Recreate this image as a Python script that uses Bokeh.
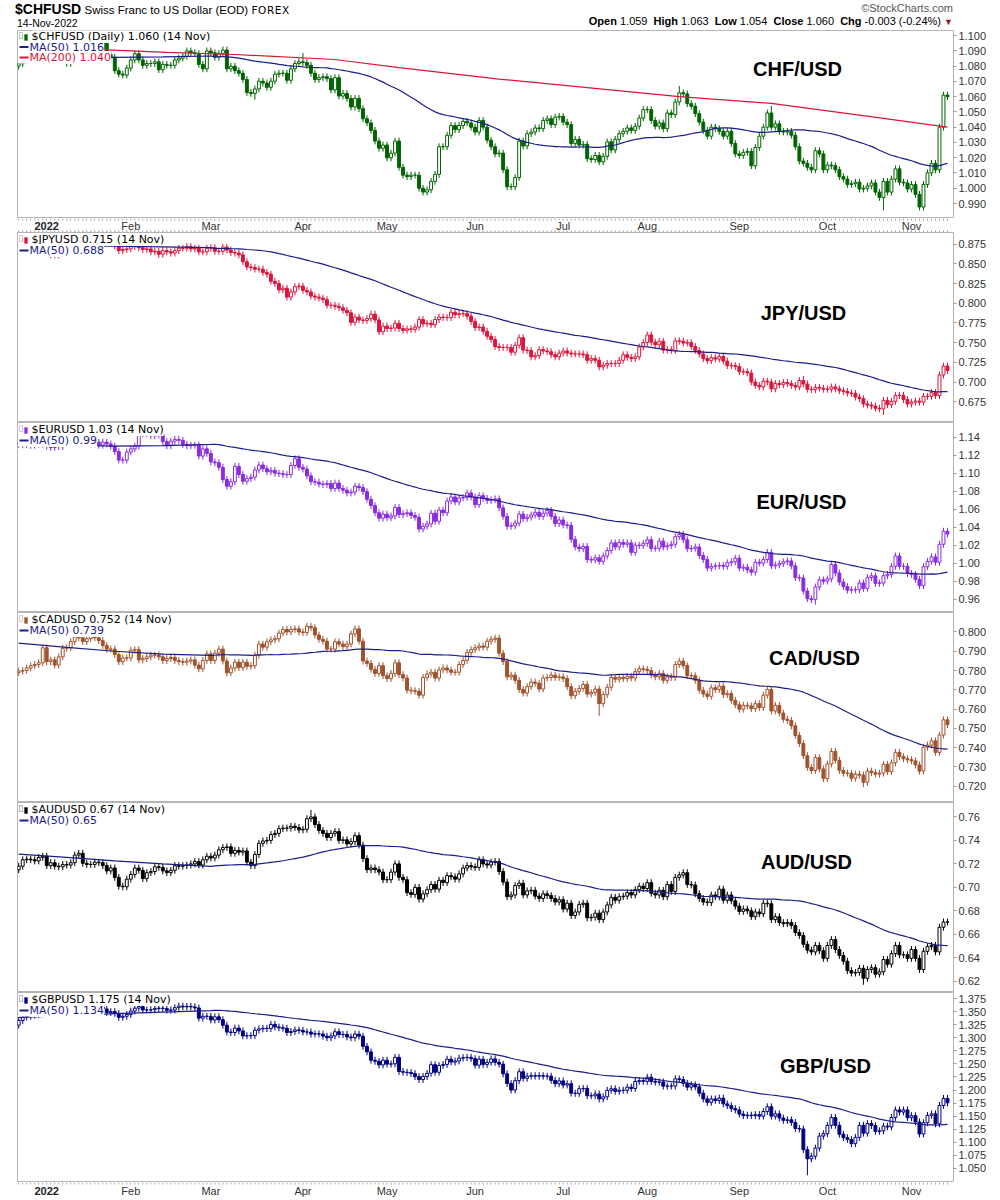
import numpy as np
from bokeh.plotting import figure
from bokeh.layouts import column
from bokeh.models import Range1d, FixedTicker, PrintfTickFormatter, Label, BoxAnnotation, Div
from bokeh.core.properties import value
from bokeh.embed import file_html
from bokeh.resources import INLINE

# ---------------- data (trading day index 0 = 23 Dec 2021 ... 232 = 14 Nov 2022) ----------------
N_DAYS = 233
month_ticks = [7, 28, 48, 71, 92, 114, 136, 157, 180, 202, 223]
month_names = ["2022", "Feb", "Mar", "Apr", "May", "Jun", "Jul", "Aug", "Sep", "Oct", "Nov"]

chf_close = [
    1.0815, 1.0860, 1.0880, 1.0870, 1.0900, 1.0930, 1.0965,
    1.0909, 1.0864, 1.0887, 1.0846, 1.0874,
    1.0817, 1.0864, 1.0929, 1.0965, 1.0941,
    1.0923, 1.0881, 1.0935, 1.0911, 1.0959,
    1.0875, 1.0858, 1.0770, 1.0747, 1.0741,
    1.0787, 1.0840, 1.0881, 1.0840, 1.0805,
    1.0817, 1.0817, 1.0828, 1.0776, 1.0811,
    1.0805, 1.0805, 1.0840, 1.0852, 1.0864,
    1.0899, 1.0887, 1.0881, 1.0811, 1.0782,
    1.0899, 1.0887, 1.0858, 1.0881, 1.0905,
    1.0782, 1.0799, 1.0770, 1.0753, 1.0712,
    1.0627, 1.0621, 1.0650, 1.0701, 1.0689,
    1.0661, 1.0701, 1.0747, 1.0753, 1.0753,
    1.0707, 1.0782, 1.0817, 1.0828, 1.0823,
    1.0805, 1.0753, 1.0712, 1.0724, 1.0730,
    1.0718, 1.0644, 1.0724, 1.0604, 1.0621,
    1.0588, 1.0532, 1.0588, 1.0521, 1.0455,
    1.0428, 1.0379, 1.0309, 1.0262, 1.0283,
    1.0199, 1.0230, 1.0309, 1.0137, 1.0086,
    1.0076, 1.0086, 1.0086, 1.0000, 0.9975,
    0.9990, 1.0045, 1.0091, 1.0272, 1.0272,
    1.0347, 1.0411, 1.0384, 1.0411, 1.0438,
    1.0428, 1.0400, 1.0368, 1.0444, 1.0400,
    1.0315, 1.0272, 1.0225, 1.0230, 1.0121,
    1.0010, 1.0010, 1.0070, 1.0309, 1.0277,
    1.0357, 1.0368, 1.0395, 1.0390, 1.0444,
    1.0455, 1.0417, 1.0466, 1.0471, 1.0433,
    1.0417, 1.0293, 1.0320, 1.0283, 1.0288,
    1.0194, 1.0188, 1.0215, 1.0173, 1.0209,
    1.0304, 1.0251, 1.0320, 1.0357, 1.0373,
    1.0395, 1.0379, 1.0406, 1.0460, 1.0515,
    1.0515, 1.0444, 1.0406, 1.0428, 1.0390,
    1.0493, 1.0482, 1.0565, 1.0625, 1.0618,
    1.0554, 1.0537, 1.0488, 1.0433, 1.0379,
    1.0341, 1.0400, 1.0390, 1.0373, 1.0341,
    1.0373, 1.0293, 1.0225, 1.0215, 1.0235,
    1.0241, 1.0147, 1.0267, 1.0341, 1.0400,
    1.0493, 1.0400, 1.0422, 1.0373, 1.0368,
    1.0373, 1.0347, 1.0272, 1.0178, 1.0163,
    1.0137, 1.0121, 1.0246, 1.0225, 1.0121,
    1.0152, 1.0147, 1.0121, 1.0076, 1.0060,
    1.0025, 1.0030, 1.0040, 0.9995, 1.0000,
    1.0015, 1.0035, 0.9975, 0.9940, 1.0045,
    0.9975, 1.0060, 1.0127, 1.0040, 1.0035,
    0.9995, 1.0025, 0.9960, 0.9877, 1.0025,
    1.0101, 1.0163, 1.0121, 1.0400, 1.0610,
    1.0600,
]
jpy_close = [
    0.8741, 0.8741, 0.8711, 0.8711, 0.8696, 0.8688, 0.8688,
    0.8673, 0.8613, 0.8613, 0.8636, 0.8651,
    0.8681, 0.8673, 0.8726, 0.8757, 0.8757,
    0.8726, 0.8726, 0.8749, 0.8764, 0.8795,
    0.8780, 0.8787, 0.8726, 0.8666, 0.8681,
    0.8688, 0.8718, 0.8741, 0.8703, 0.8681,
    0.8688, 0.8651, 0.8658, 0.8621, 0.8666,
    0.8651, 0.8636, 0.8666, 0.8696, 0.8696,
    0.8718, 0.8688, 0.8696, 0.8651, 0.8651,
    0.8696, 0.8703, 0.8658, 0.8658, 0.8711,
    0.8673, 0.8643, 0.8636, 0.8613, 0.8525,
    0.8460, 0.8453, 0.8432, 0.8432, 0.8389,
    0.8368, 0.8278, 0.8251, 0.8170, 0.8190,
    0.8078, 0.8143, 0.8210, 0.8217, 0.8163,
    0.8143, 0.8091, 0.8078, 0.8065, 0.8045,
    0.7974, 0.7974, 0.7962, 0.7943, 0.7911,
    0.7880, 0.7758, 0.7825, 0.7788, 0.7782,
    0.7806, 0.7862, 0.7788, 0.7639, 0.7710,
    0.7680, 0.7686, 0.7746, 0.7680, 0.7657,
    0.7675, 0.7669, 0.7698, 0.7794, 0.7740,
    0.7746, 0.7728, 0.7794, 0.7825, 0.7819,
    0.7819, 0.7886, 0.7855, 0.7868, 0.7868,
    0.7837, 0.7770, 0.7692, 0.7698, 0.7645,
    0.7582, 0.7541, 0.7452, 0.7440, 0.7440,
    0.7440, 0.7380, 0.7468, 0.7564, 0.7407,
    0.7402, 0.7321, 0.7337, 0.7413, 0.7396,
    0.7386, 0.7348, 0.7321, 0.7369, 0.7396,
    0.7369, 0.7358, 0.7358, 0.7358, 0.7348,
    0.7278, 0.7299, 0.7278, 0.7194, 0.7215,
    0.7236, 0.7236, 0.7236, 0.7278, 0.7348,
    0.7315, 0.7299, 0.7321, 0.7446, 0.7502,
    0.7599, 0.7508, 0.7474, 0.7519, 0.7407,
    0.7413, 0.7402, 0.7524, 0.7519, 0.7496,
    0.7502, 0.7452, 0.7402, 0.7358, 0.7299,
    0.7273, 0.7310, 0.7294, 0.7326, 0.7267,
    0.7210, 0.7210, 0.7199, 0.7133, 0.7133,
    0.7117, 0.7003, 0.6959, 0.6940, 0.7013,
    0.7003, 0.6916, 0.6983, 0.6969, 0.6998,
    0.6983, 0.6959, 0.6940, 0.7022, 0.6978,
    0.6911, 0.6906, 0.6935, 0.6925, 0.6911,
    0.6911, 0.6940, 0.6916, 0.6892, 0.6882,
    0.6863, 0.6859, 0.6812, 0.6793, 0.6725,
    0.6711, 0.6698, 0.6671, 0.6662, 0.6770,
    0.6716, 0.6757, 0.6831, 0.6835, 0.6780,
    0.6725, 0.6748, 0.6761, 0.6748, 0.6821,
    0.6821, 0.6868, 0.6831, 0.7092, 0.7205,
    0.7148,
]
eur_close = [
    1.1320, 1.1315, 1.1325, 1.1310, 1.1345, 1.1320, 1.1370,
    1.1300, 1.1285, 1.1315, 1.1295, 1.1360,
    1.1330, 1.1370, 1.1440, 1.1455, 1.1415,
    1.1405, 1.1325, 1.1345, 1.1310, 1.1345,
    1.1325, 1.1300, 1.1240, 1.1145, 1.1145,
    1.1235, 1.1270, 1.1300, 1.1440, 1.1455,
    1.1440, 1.1415, 1.1425, 1.1425, 1.1350,
    1.1305, 1.1355, 1.1375, 1.1365, 1.1320,
    1.1305, 1.1310, 1.1310, 1.1190, 1.1270,
    1.1220, 1.1125, 1.1115, 1.1065, 1.0930,
    1.0855, 1.0905, 1.1075, 1.0985, 1.0910,
    1.0940, 1.0955, 1.1035, 1.1090, 1.1050,
    1.1015, 1.1030, 1.1000, 1.0995, 1.0985,
    1.0985, 1.1085, 1.1160, 1.1065, 1.1045,
    1.0970, 1.0905, 1.0900, 1.0880, 1.0875,
    1.0885, 1.0830, 1.0890, 1.0830, 1.0810,
    1.0780, 1.0790, 1.0855, 1.0840, 1.0795,
    1.0710, 1.0640, 1.0560, 1.0500, 1.0545,
    1.0505, 1.0525, 1.0620, 1.0540, 1.0550,
    1.0560, 1.0530, 1.0510, 1.0380, 1.0410,
    1.0435, 1.0555, 1.0465, 1.0590, 1.0560,
    1.0690, 1.0735, 1.0680, 1.0725, 1.0730,
    1.0780, 1.0735, 1.0650, 1.0750, 1.0720,
    1.0695, 1.0705, 1.0715, 1.0615, 1.0520,
    1.0410, 1.0415, 1.0445, 1.0545, 1.0495,
    1.0510, 1.0535, 1.0565, 1.0520, 1.0555,
    1.0585, 1.0520, 1.0440, 1.0480, 1.0425,
    1.0420, 1.0265, 1.0180, 1.0160, 1.0185,
    1.0040, 1.0035, 1.0060, 1.0020, 1.0080,
    1.0140, 1.0225, 1.0180, 1.0230, 1.0210,
    1.0225, 1.0120, 1.0200, 1.0195, 1.0220,
    1.0260, 1.0165, 1.0165, 1.0245, 1.0180,
    1.0195, 1.0210, 1.0295, 1.0320, 1.0260,
    1.0160, 1.0165, 1.0180, 1.0085, 1.0040,
    0.9945, 0.9965, 0.9970, 0.9975, 0.9965,
    1.0005, 1.0015, 1.0055, 0.9945, 0.9955,
    0.9925, 0.9900, 1.0010, 1.0000, 1.0040,
    1.0120, 0.9970, 0.9980, 0.9995, 1.0015,
    1.0025, 0.9970, 0.9840, 0.9835, 0.9690,
    0.9605, 0.9595, 0.9735, 0.9815, 0.9800,
    0.9825, 0.9985, 0.9890, 0.9790, 0.9740,
    0.9700, 0.9705, 0.9705, 0.9780, 0.9720,
    0.9840, 0.9860, 0.9775, 0.9780, 0.9860,
    0.9875, 0.9965, 1.0080, 0.9965, 0.9965,
    0.9885, 0.9875, 0.9820, 0.9750, 0.9960,
    1.0020, 1.0070, 1.0010, 1.0210, 1.0355,
    1.0325,
]
cad_close = [
    0.7797, 0.7800, 0.7813, 0.7825, 0.7831, 0.7840, 0.7918,
    0.7846, 0.7855, 0.7828, 0.7871, 0.7915,
    0.7918, 0.7950, 0.7975, 0.7970, 0.7950,
    0.7965, 0.7975, 0.7970, 0.7955, 0.7930,
    0.7911, 0.7911, 0.7883, 0.7846, 0.7865,
    0.7865, 0.7905, 0.7908, 0.7855, 0.7862,
    0.7871, 0.7880, 0.7880, 0.7871, 0.7852,
    0.7862, 0.7868, 0.7852, 0.7846, 0.7843,
    0.7849, 0.7855, 0.7828, 0.7809, 0.7852,
    0.7886, 0.7852, 0.7890, 0.7911, 0.7849,
    0.7788, 0.7813, 0.7843, 0.7815, 0.7843,
    0.7822, 0.7825, 0.7880, 0.7937, 0.7921,
    0.7949, 0.7959, 0.7965, 0.7994, 0.8013,
    0.8000, 0.8013, 0.8016, 0.8000, 0.7997,
    0.8029, 0.8022, 0.7984, 0.7962, 0.7952,
    0.7911, 0.7911, 0.7949, 0.7937, 0.7924,
    0.7937, 0.7990, 0.8016, 0.7952, 0.7849,
    0.7837, 0.7806, 0.7785, 0.7825, 0.7773,
    0.7758, 0.7785, 0.7840, 0.7779, 0.7761,
    0.7698, 0.7695, 0.7692, 0.7672, 0.7764,
    0.7782, 0.7791, 0.7761, 0.7803, 0.7813,
    0.7803, 0.7791, 0.7791, 0.7831, 0.7852,
    0.7893, 0.7908, 0.7918, 0.7927, 0.7921,
    0.7952, 0.7962, 0.7968, 0.7890, 0.7846,
    0.7767, 0.7776, 0.7749, 0.7701, 0.7683,
    0.7716, 0.7740, 0.7734, 0.7704, 0.7761,
    0.7764, 0.7776, 0.7764, 0.7767, 0.7758,
    0.7716, 0.7669, 0.7692, 0.7707, 0.7728,
    0.7678, 0.7686, 0.7704, 0.7628, 0.7675,
    0.7713, 0.7764, 0.7755, 0.7764, 0.7758,
    0.7770, 0.7761, 0.7794, 0.7809, 0.7806,
    0.7800, 0.7776, 0.7767, 0.7785, 0.7749,
    0.7767, 0.7764, 0.7831, 0.7849, 0.7825,
    0.7773, 0.7773, 0.7749, 0.7698, 0.7678,
    0.7666, 0.7710, 0.7701, 0.7719, 0.7675,
    0.7680, 0.7645, 0.7622, 0.7599, 0.7619,
    0.7616, 0.7602, 0.7628, 0.7608, 0.7672,
    0.7701, 0.7590, 0.7619, 0.7579, 0.7547,
    0.7541, 0.7513, 0.7463, 0.7421, 0.7358,
    0.7297, 0.7281, 0.7348, 0.7289, 0.7239,
    0.7315, 0.7380, 0.7334, 0.7281, 0.7267,
    0.7267, 0.7241, 0.7262, 0.7257, 0.7220,
    0.7278, 0.7270, 0.7262, 0.7267, 0.7313,
    0.7275, 0.7321, 0.7375, 0.7353, 0.7342,
    0.7337, 0.7331, 0.7310, 0.7278, 0.7402,
    0.7413, 0.7435, 0.7375, 0.7465, 0.7544,
    0.7519,
]
aud_close = [
    0.7180, 0.7235, 0.7240, 0.7235, 0.7225, 0.7255, 0.7265,
    0.7185, 0.7210, 0.7180, 0.7175, 0.7195,
    0.7190, 0.7210, 0.7275, 0.7290, 0.7205,
    0.7195, 0.7195, 0.7215, 0.7210, 0.7185,
    0.7140, 0.7165, 0.7085, 0.7010, 0.7005,
    0.7070, 0.7110, 0.7165, 0.7145, 0.7075,
    0.7125, 0.7135, 0.7175, 0.7170, 0.7140,
    0.7125, 0.7145, 0.7185, 0.7180, 0.7185,
    0.7190, 0.7200, 0.7220, 0.7190, 0.7235,
    0.7265, 0.7250, 0.7275, 0.7320, 0.7340,
    0.7345, 0.7290, 0.7315, 0.7300, 0.7310,
    0.7215, 0.7185, 0.7280, 0.7375, 0.7395,
    0.7400, 0.7450, 0.7460, 0.7500, 0.7505,
    0.7505, 0.7520, 0.7510, 0.7490, 0.7495,
    0.7585, 0.7600, 0.7535, 0.7485, 0.7460,
    0.7425, 0.7460, 0.7475, 0.7400, 0.7405,
    0.7370, 0.7390, 0.7440, 0.7360, 0.7245,
    0.7150, 0.7165, 0.7150, 0.7130, 0.7065,
    0.7065, 0.7130, 0.7200, 0.7085, 0.7065,
    0.6955, 0.6940, 0.7000, 0.6900, 0.6945,
    0.6980, 0.7025, 0.6985, 0.7060, 0.7040,
    0.7100, 0.7090, 0.7070, 0.7115, 0.7165,
    0.7185, 0.7175, 0.7170, 0.7235, 0.7200,
    0.7190, 0.7215, 0.7220, 0.7135, 0.7045,
    0.6920, 0.6935, 0.7015, 0.7035, 0.6935,
    0.6970, 0.6975, 0.6925, 0.6905, 0.6945,
    0.6930, 0.6905, 0.6875, 0.6895, 0.6815,
    0.6865, 0.6760, 0.6790, 0.6855, 0.6865,
    0.6740, 0.6745, 0.6780, 0.6725, 0.6790,
    0.6850, 0.6915, 0.6890, 0.6920, 0.6925,
    0.6955, 0.6935, 0.6980, 0.7010, 0.6990,
    0.7040, 0.6950, 0.6935, 0.6975, 0.6920,
    0.7025, 0.6965, 0.7085, 0.7105, 0.7125,
    0.7025, 0.7020, 0.6945, 0.6905, 0.6875,
    0.6870, 0.6935, 0.6920, 0.6985, 0.6890,
    0.6935, 0.6885, 0.6840, 0.6795, 0.6815,
    0.6800, 0.6750, 0.6790, 0.6775, 0.6865,
    0.6860, 0.6725, 0.6750, 0.6700, 0.6690,
    0.6700, 0.6675, 0.6615, 0.6590, 0.6515,
    0.6465, 0.6450, 0.6505, 0.6460, 0.6395,
    0.6505, 0.6555, 0.6470, 0.6420, 0.6370,
    0.6290, 0.6270, 0.6275, 0.6310, 0.6225,
    0.6300, 0.6315, 0.6260, 0.6280, 0.6385,
    0.6345, 0.6435, 0.6505, 0.6425, 0.6425,
    0.6395, 0.6470, 0.6395, 0.6300, 0.6455,
    0.6495, 0.6505, 0.6450, 0.6660, 0.6705,
    0.6705,
]
gbp_close = [
    1.3330, 1.3395, 1.3410, 1.3430, 1.3450, 1.3470, 1.3520,
    1.3480, 1.3530, 1.3545, 1.3530, 1.3590,
    1.3595, 1.3665, 1.3715, 1.3710, 1.3675,
    1.3640, 1.3595, 1.3615, 1.3590, 1.3550,
    1.3480, 1.3500, 1.3465, 1.3390, 1.3410,
    1.3445, 1.3510, 1.3565, 1.3595, 1.3530,
    1.3530, 1.3535, 1.3560, 1.3565, 1.3560,
    1.3525, 1.3530, 1.3575, 1.3605, 1.3590,
    1.3600, 1.3590, 1.3570, 1.3375, 1.3410,
    1.3410, 1.3340, 1.3400, 1.3345, 1.3240,
    1.3110, 1.3100, 1.3185, 1.3130, 1.3035,
    1.3040, 1.3040, 1.3145, 1.3170, 1.3180,
    1.3175, 1.3255, 1.3205, 1.3190, 1.3180,
    1.3100, 1.3120, 1.3150, 1.3140, 1.3110,
    1.3110, 1.3070, 1.3075, 1.3070, 1.3030,
    1.3000, 1.3035, 1.3115, 1.3060, 1.3065,
    1.3015, 1.3000, 1.3070, 1.3030, 1.2835,
    1.2730, 1.2570, 1.2550, 1.2480, 1.2570,
    1.2495, 1.2500, 1.2625, 1.2355, 1.2340,
    1.2335, 1.2315, 1.2255, 1.2200, 1.2260,
    1.2320, 1.2485, 1.2340, 1.2470, 1.2490,
    1.2590, 1.2535, 1.2555, 1.2610, 1.2620,
    1.2625, 1.2600, 1.2475, 1.2590, 1.2490,
    1.2530, 1.2595, 1.2530, 1.2495, 1.2310,
    1.2125, 1.2000, 1.2180, 1.2350, 1.2225,
    1.2265, 1.2275, 1.2265, 1.2275, 1.2265,
    1.2265, 1.2185, 1.2120, 1.2175, 1.2095,
    1.2120, 1.1940, 1.1935, 1.2025, 1.2030,
    1.1890, 1.1890, 1.1925, 1.1830, 1.1870,
    1.1995, 1.2025, 1.1975, 1.1995, 1.1995,
    1.2055, 1.2030, 1.2165, 1.2180, 1.2165,
    1.2245, 1.2165, 1.2150, 1.2155, 1.2075,
    1.2075, 1.2075, 1.2215, 1.2200, 1.2130,
    1.2055, 1.2100, 1.2060, 1.1940, 1.1830,
    1.1765, 1.1830, 1.1800, 1.1845, 1.1735,
    1.1700, 1.1645, 1.1620, 1.1540, 1.1510,
    1.1520, 1.1510, 1.1530, 1.1500, 1.1590,
    1.1680, 1.1500, 1.1545, 1.1465, 1.1420,
    1.1430, 1.1380, 1.1265, 1.1255, 1.0860,
    1.0685, 1.0735, 1.0890, 1.1120, 1.1165,
    1.1325, 1.1475, 1.1325, 1.1155, 1.1090,
    1.1055, 1.0975, 1.1095, 1.1325, 1.1175,
    1.1360, 1.1320, 1.1210, 1.1220, 1.1310,
    1.1295, 1.1475, 1.1620, 1.1580, 1.1620,
    1.1470, 1.1510, 1.1390, 1.1160, 1.1375,
    1.1515, 1.1545, 1.1355, 1.1705, 1.1840,
    1.1755,
]

# opening value of the first candle
chf_open0, jpy_open0, eur_open0, cad_open0, aud_open0, gbp_open0 = 1.0800, 0.8735, 1.1335, 0.7790, 0.7150, 1.3240

# notable wick extremes: {day index: value}
chf_spike_high = {71: 1.0885, 165: 1.0670, 188: 1.0540}
chf_spike_low = {59: 1.0580, 216: 0.9855, 225: 0.9865}
jpy_spike_high = {157: 0.7620, 196: 0.7080}
jpy_spike_low = {216: 0.6585}
eur_spike_high = {}
eur_spike_low = {199: 0.9540}
cad_spike_high = {84: 0.8030}
cad_spike_low = {145: 0.7565, 211: 0.7195}
aud_spike_high = {73: 0.7660}
aud_spike_low = {211: 0.6170}
gbp_spike_high = {}
gbp_spike_low = {197: 1.0370}

# moving averages before enough history
ma50_head_idx = [0, 12, 24, 36, 48]
chf_ma50_head = [1.0850, 1.0855, 1.0857, 1.0860, 1.0866]
jpy_ma50_head = [0.8725, 0.8725, 0.8722, 0.8715, 0.8705]
eur_ma50_head = [1.1320, 1.1310, 1.1300, 1.1305, 1.1320]
cad_ma50_head = [0.7942, 0.7920, 0.7900, 0.7885, 0.7878]
aud_ma50_head = [0.7283, 0.7255, 0.7225, 0.7200, 0.7178]
gbp_ma50_head = [1.3390, 1.3420, 1.3460, 1.3490, 1.3520]

chf_ma200_idx = [0, 19, 37, 54, 79, 95, 120, 165, 188, 216, 232]
chf_ma200 = [1.0920, 1.0909, 1.0890, 1.0876, 1.0843, 1.0790, 1.0715, 1.0600, 1.0556, 1.0458, 1.0400]

chf_ticks = [0.99, 1.00, 1.01, 1.02, 1.03, 1.04, 1.05, 1.06, 1.07, 1.08, 1.09, 1.10]
jpy_ticks = [0.675, 0.700, 0.725, 0.750, 0.775, 0.800, 0.825, 0.850, 0.875]
eur_ticks = [0.96, 0.98, 1.00, 1.02, 1.04, 1.06, 1.08, 1.10, 1.12, 1.14]
cad_ticks = [0.72, 0.73, 0.74, 0.75, 0.76, 0.77, 0.78, 0.79, 0.80]
aud_ticks = [0.62, 0.64, 0.66, 0.68, 0.70, 0.72, 0.74, 0.76]
gbp_ticks = [1.050, 1.075, 1.100, 1.125, 1.150, 1.175, 1.200, 1.225, 1.250, 1.275, 1.300, 1.325, 1.350, 1.375]

# ---------------- layout / style ----------------
X0, X1 = -0.3, 233.5
FRAME_W = 936
LEFT, RIGHT = 17, 40
NAVY = "#1c1c8c"
CRIMSON = "#dc143c"
TICK_GRAY = "#a0a0a0"

PANELS = [
    dict(close=chf_close, open0=chf_open0, hi_x=chf_spike_high, lo_x=chf_spike_low, head=chf_ma50_head,
         color="#006400", yr=(0.9802, 1.1033), fh=188, ticks=chf_ticks, fmt="%.3f", title="CHF/USD",
         tpos=(797, 38.5), rows=[6.0, 16.5, 27.0],
         legend=[("$CHFUSD (Daily) 1.060 (14 Nov)", "black"), ("MA(50) 1.016", NAVY), ("MA(200) 1.040", CRIMSON)]),
    dict(close=jpy_close, open0=jpy_open0, hi_x=jpy_spike_high, lo_x=jpy_spike_low, head=jpy_ma50_head,
         color="#dc143c", yr=(0.6490, 0.8896), fh=190, ticks=jpy_ticks, fmt="%.3f", title="JPY/USD",
         tpos=(803, 80.3), rows=[7.0, 18.0],
         legend=[("$JPYUSD 0.715 (14 Nov)", "black"), ("MA(50) 0.688", NAVY)]),
    dict(close=eur_close, open0=eur_open0, hi_x=eur_spike_high, lo_x=eur_spike_low, head=eur_ma50_head,
         color="#8a2be2", yr=(0.9452, 1.1563), fh=190, ticks=eur_ticks, fmt="%.2f", title="EUR/USD",
         tpos=(801, 79.7), rows=[7.0, 18.0],
         legend=[("$EURUSD 1.03 (14 Nov)", "black"), ("MA(50) 0.99", NAVY)]),
    dict(close=cad_close, open0=cad_open0, hi_x=cad_spike_high, lo_x=cad_spike_low, head=cad_ma50_head,
         color="#a0522d", yr=(0.7115, 0.8101), fh=190, ticks=cad_ticks, fmt="%.3f", title="CAD/USD",
         tpos=(814, 45.7), rows=[7.0, 18.0],
         legend=[("$CADUSD 0.752 (14 Nov)", "black"), ("MA(50) 0.739", NAVY)]),
    dict(close=aud_close, open0=aud_open0, hi_x=aud_spike_high, lo_x=aud_spike_low, head=aud_ma50_head,
         color="#000000", yr=(0.6104, 0.7723), fh=190, ticks=aud_ticks, fmt="%.2f", title="AUD/USD",
         tpos=(806, 59.7), rows=[7.0, 18.0],
         legend=[("$AUDUSD 0.67 (14 Nov)", "black"), ("MA(50) 0.65", NAVY)]),
    dict(close=gbp_close, open0=gbp_open0, hi_x=gbp_spike_high, lo_x=gbp_spike_low, head=gbp_ma50_head,
         color="#000080", yr=(1.0232, 1.3865), fh=190, ticks=gbp_ticks, fmt="%.3f", title="GBP/USD",
         tpos=(825, 73.7), rows=[7.0, 18.0],
         legend=[("$GBPUSD 1.175 (14 Nov)", "black"), ("MA(50) 1.134", NAVY)]),
]


def px2x(px):
    return X0 + (px - LEFT) * (X1 - X0) / FRAME_W


def off2y(lo, hi, fh, off):
    return hi - off * (hi - lo) / fh


xr = Range1d(X0, X1)
days = np.arange(N_DAYS)


def date_strip(h, tick_top, tick_bottom, label_y):
    s = figure(frame_width=FRAME_W, frame_height=h, x_range=xr, y_range=Range1d(0, h),
               output_backend="svg", toolbar_location=None, x_axis_location=None, y_axis_location=None,
               min_border_left=LEFT, min_border_right=RIGHT, min_border_top=0, min_border_bottom=0)
    s.outline_line_color = None
    s.xgrid.visible = False
    s.ygrid.visible = False
    s.background_fill_color = "white"
    s.border_fill_color = "white"
    if tick_top:
        s.segment(x0=days, y0=h - 2, x1=days, y1=h, line_color=TICK_GRAY, line_width=1)
    if tick_bottom:
        s.segment(x0=days, y0=0, x1=days, y1=2, line_color=TICK_GRAY, line_width=1)
    s.text(x=month_ticks[1:], y=[label_y] * (len(month_ticks) - 1), text=month_names[1:],
           text_font=value("Liberation Sans"), text_font_size=value("11px"), text_color="#333333",
           text_align="center", text_baseline="middle")
    s.text(x=month_ticks[:1], y=[label_y], text=month_names[:1],
           text_font=value("Liberation Sans"), text_font_size=value("11px"), text_font_style="bold",
           text_color="#222222", text_align="center", text_baseline="middle")
    return s


figs = []
for k, cfg in enumerate(PANELS):
    assert len(cfg["close"]) == N_DAYS, (k, len(cfg["close"]))
    lo, hi = cfg["yr"]
    fh = cfg["fh"]
    p = figure(frame_width=FRAME_W, frame_height=fh, x_range=xr, y_range=Range1d(lo, hi),
               output_backend="svg", toolbar_location=None, y_axis_location="right", x_axis_location=None,
               min_border_left=LEFT, min_border_right=RIGHT, min_border_top=0, min_border_bottom=0)
    p.xgrid.visible = False
    p.ygrid.visible = False
    p.outline_line_color = "#b4b4b4"
    p.outline_line_width = 1
    p.background_fill_color = "white"
    p.border_fill_color = "white"

    yax = p.yaxis[0]
    yax.ticker = FixedTicker(ticks=cfg["ticks"])
    yax.formatter = PrintfTickFormatter(format=cfg["fmt"])
    yax.axis_line_color = None
    yax.major_tick_in = 0
    yax.major_tick_out = 3
    yax.major_tick_line_color = "#9a9a9a"
    yax.minor_tick_line_color = None
    yax.major_label_text_font = "Liberation Sans"
    yax.major_label_text_font_size = "11px"
    yax.major_label_text_color = "#333333"
    yax.major_label_standoff = 2

    # ----- candles -----
    c = np.array(cfg["close"], dtype=float)
    o = np.r_[cfg["open0"], c[:-1]]
    top = np.maximum(o, c)
    bot = np.minimum(o, c)
    wick = 0.018 * (hi - lo)
    high = top + wick
    low = bot - wick
    for i, v in cfg["hi_x"].items():
        high[i] = max(high[i], v)
    for i, v in cfg["lo_x"].items():
        low[i] = min(low[i], v)
    up = c >= o
    col = cfg["color"]
    p.segment(x0=days, y0=low, x1=days, y1=high, line_color=col, line_width=1)
    p.vbar(x=days[up], width=0.72, top=top[up], bottom=bot[up], fill_color="white", line_color=col, line_width=1)
    p.vbar(x=days[~up], width=0.72, top=top[~up], bottom=bot[~up], fill_color=col, line_color=col, line_width=1)

    # ----- moving averages -----
    ma_x = list(ma50_head_idx) + list(range(49, N_DAYS))
    ma_y = list(cfg["head"]) + [float(c[i - 49:i + 1].mean()) for i in range(49, N_DAYS)]
    p.line(ma_x, ma_y, line_color=NAVY, line_width=1.2)
    if k == 0:
        p.line(chf_ma200_idx, chf_ma200, line_color=CRIMSON, line_width=1.2)

    # ----- legend rows -----
    rows = cfg["rows"]
    p.add_layout(BoxAnnotation(left=px2x(17.5), right=px2x(31), top=off2y(lo, hi, fh, 0.5),
                               bottom=off2y(lo, hi, fh, rows[-1] + 6), fill_color="white", fill_alpha=1.0,
                               line_color=None))
    for r, ((txt, tcol), off) in enumerate(zip(cfg["legend"], rows)):
        p.add_layout(Label(x=px2x(31 if r == 0 else 29), y=off2y(lo, hi, fh, off), text=txt,
                           text_font="DejaVu Sans", text_font_size="11px", text_color=tcol,
                           text_align="left", text_baseline="middle",
                           background_fill_color="white", background_fill_alpha=1.0))
        if r == 0:
            p.add_layout(BoxAnnotation(left=px2x(19), right=px2x(22), top=off2y(lo, hi, fh, off - 4),
                                       bottom=off2y(lo, hi, fh, off + 2), fill_color="white", fill_alpha=1.0,
                                       line_color=col, line_width=1))
            p.add_layout(BoxAnnotation(left=px2x(24), right=px2x(27), top=off2y(lo, hi, fh, off - 2),
                                       bottom=off2y(lo, hi, fh, off + 4), fill_color=col, fill_alpha=1.0,
                                       line_color=col, line_width=1))
        else:
            p.add_layout(BoxAnnotation(left=px2x(19), right=px2x(28), top=off2y(lo, hi, fh, off - 1),
                                       bottom=off2y(lo, hi, fh, off + 1), fill_color=tcol, fill_alpha=1.0,
                                       line_color=None))

    # ----- big pair title -----
    p.add_layout(Label(x=px2x(cfg["tpos"][0]), y=off2y(lo, hi, fh, cfg["tpos"][1]), text=cfg["title"],
                       text_font="Liberation Sans", text_font_style="bold", text_font_size="20px",
                       text_color="black", text_align="center", text_baseline="middle"))
    figs.append(p)

TOTAL_W = LEFT + FRAME_W + RIGHT
header_html = (
    '<div style="position:relative;width:%dpx;height:30px;font-family:\'Liberation Sans\',Arial,sans-serif;'
    'color:#000;line-height:1;">'
    '<span style="position:absolute;left:15px;top:2px;white-space:nowrap;">'
    '<b style="font-size:14px;">$CHFUSD</b> '
    '<span style="font-size:11.5px;">Swiss Franc to US Dollar (EOD)</span> '
    '<span style="font-size:10.5px;font-family:\'DejaVu Sans\';letter-spacing:0.6px;">FOREX</span></span>'
    '<span style="position:absolute;left:17px;top:18px;font-size:10.5px;white-space:nowrap;">14-Nov-2022</span>'
    '<span style="position:absolute;right:%dpx;top:3px;font-size:11px;color:#555;white-space:nowrap;">'
    '&copy;StockCharts.com</span>'
    '<span style="position:absolute;right:%dpx;top:16px;font-size:11px;white-space:nowrap;">'
    '<b>Open</b> 1.059&nbsp; <b>High</b> 1.063&nbsp; <b>Low</b> 1.054&nbsp; <b>Close</b> 1.060&nbsp; '
    '<b>Chg</b> -0.003 (-0.24%%) <span style="color:#8b1a2b;font-size:9px;">&#9660;</span></span>'
    '</div>'
) % (TOTAL_W, RIGHT, RIGHT)
header = Div(text=header_html, width=TOTAL_W, height=30, margin=(0, 0, 0, 0))

strip_top = date_strip(14, True, True, 7)
strip_bottom = date_strip(16, True, False, 8)

layout = column(header, figs[0], strip_top, *figs[1:], strip_bottom, spacing=0)
open("out.html", "w").write(file_html(layout, INLINE, title="$CHFUSD"))
